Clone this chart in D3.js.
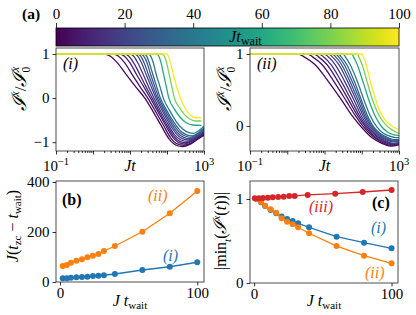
<!DOCTYPE html>
<html><head><meta charset="utf-8">
<script src="https://cdn.jsdelivr.net/npm/d3@7"></script>
<style>
body{margin:0;background:#fff}
svg{display:block}
</style>
</head><body>
<svg id="c" width="416" height="315"></svg>
<script>
// ---------------- data ----------------
const twait = [2,5,8,12,16,20,24,28,32,40,60,80,100];
const twaitIII = [0.5,3.5,6.5,10,13.5,17.5,21.5,25.5,29.5,39,59,79,100];
const cbTicks = [0,20,40,60,80,100];
const yTicksI = [-1,0,1];
const yTicksII = [0,1];
const yTicksB = [0,200,400];
const yTicksC = [0,1];
const xTicksBC = [0,100];
const logMajor = [0.1,1,10,100,1000];
const logLabeled = [0.1,1000];
const logMinor = [0.2,0.3,0.4,0.5,0.6,0.7,0.8,0.9,2,3,4,5,6,7,8,9,20,30,40,50,60,70,80,90,200,300,400,500,600,700,800,900];

// panel (i): [log10(Jt), I^x/I^x_0] per t_wait
const curvesI = [
 [[-1,1],[0.30,1],[0.47,0.95],[0.66,0.80],[0.90,0.53],[1.15,0.26],[1.40,0],[1.62,-0.30],[1.84,-0.62],[2.05,-0.92],[2.25,-1.07],[2.42,-1.10],[2.62,-1.05],[2.82,-0.94],[3.0,-0.84]],
 [[-1,1],[0.55,1],[0.69,0.95],[0.86,0.80],[1.06,0.53],[1.27,0.26],[1.48,0],[1.69,-0.30],[1.90,-0.61],[2.10,-0.90],[2.28,-1.04],[2.45,-1.07],[2.65,-1.02],[2.84,-0.91],[3.0,-0.82]],
 [[-1,1],[0.72,1],[0.85,0.95],[1.0,0.80],[1.18,0.53],[1.37,0.26],[1.55,0],[1.75,-0.30],[1.95,-0.60],[2.14,-0.87],[2.32,-1.01],[2.48,-1.04],[2.68,-0.98],[2.86,-0.88],[3.0,-0.80]],
 [[-1,1],[0.86,1],[0.97,0.95],[1.1,0.80],[1.27,0.53],[1.43,0.26],[1.60,0],[1.79,-0.30],[1.98,-0.59],[2.17,-0.85],[2.35,-0.98],[2.52,-1.01],[2.7,-0.95],[2.87,-0.86],[3.0,-0.78]],
 [[-1,1],[1.0,1],[1.1,0.95],[1.21,0.80],[1.36,0.53],[1.5,0.26],[1.65,0],[1.83,-0.30],[2.02,-0.58],[2.2,-0.83],[2.38,-0.95],[2.55,-0.98],[2.72,-0.92],[2.88,-0.83],[3.0,-0.76]],
 [[-1,1],[1.12,1],[1.21,0.95],[1.31,0.80],[1.44,0.53],[1.57,0.26],[1.70,0],[1.88,-0.30],[2.06,-0.57],[2.24,-0.80],[2.41,-0.92],[2.58,-0.95],[2.75,-0.89],[2.9,-0.80],[3.0,-0.74]],
 [[-1,1],[1.21,1],[1.29,0.95],[1.38,0.80],[1.5,0.53],[1.62,0.26],[1.74,0],[1.92,-0.30],[2.1,-0.56],[2.28,-0.78],[2.45,-0.89],[2.62,-0.92],[2.78,-0.86],[2.92,-0.78],[3.0,-0.72]],
 [[-1,1],[1.3,1],[1.37,0.95],[1.46,0.80],[1.56,0.53],[1.67,0.26],[1.78,0],[1.96,-0.29],[2.14,-0.55],[2.32,-0.76],[2.49,-0.86],[2.65,-0.89],[2.8,-0.83],[2.93,-0.76],[3.0,-0.70]],
 [[-1,1],[1.38,1],[1.45,0.95],[1.52,0.80],[1.62,0.53],[1.72,0.26],[1.82,0],[2.0,-0.29],[2.18,-0.54],[2.36,-0.74],[2.52,-0.83],[2.68,-0.86],[2.83,-0.80],[2.95,-0.72],[3.0,-0.68]],
 [[-1,1],[1.5,1],[1.56,0.95],[1.63,0.80],[1.71,0.53],[1.81,0.26],[1.9,0],[2.07,-0.28],[2.24,-0.52],[2.41,-0.69],[2.57,-0.78],[2.72,-0.80],[2.86,-0.74],[3.0,-0.64]],
 [[-1,1],[1.73,1],[1.78,0.95],[1.84,0.80],[1.91,0.53],[1.98,0.26],[2.05,0],[2.2,-0.25],[2.36,-0.44],[2.52,-0.56],[2.7,-0.61],[2.93,-0.62]],
 [[-1,1],[1.88,1],[1.93,0.95],[1.99,0.80],[2.06,0.53],[2.13,0.26],[2.2,0],[2.34,-0.22],[2.48,-0.38],[2.63,-0.48],[2.78,-0.52],[2.93,-0.52]],
 [[-1,1],[2.0,1],[2.04,0.95],[2.09,0.82],[2.13,0.68],[2.22,0.38],[2.35,0.03],[2.49,-0.23],[2.62,-0.38],[2.76,-0.44],[2.93,-0.45]]
];
// panel (ii)
const curvesII = [
 [[-1,1],[0.30,1],[0.45,0.96],[0.75,0.85],[1.1,0.62],[1.46,0.36],[1.73,0.15],[2.0,-0.02],[2.27,-0.16],[2.54,-0.24],[2.78,-0.28],[3.0,-0.26]],
 [[-1,1],[0.55,1],[0.68,0.96],[0.94,0.85],[1.25,0.62],[1.57,0.36],[1.82,0.15],[2.06,-0.02],[2.31,-0.15],[2.56,-0.23],[2.8,-0.27],[3.0,-0.25]],
 [[-1,1],[0.72,1],[0.84,0.96],[1.07,0.85],[1.36,0.62],[1.65,0.36],[1.88,0.15],[2.11,-0.02],[2.35,-0.15],[2.59,-0.22],[2.82,-0.26],[3.0,-0.25]],
 [[-1,1],[0.86,1],[0.97,0.96],[1.18,0.85],[1.45,0.62],[1.72,0.36],[1.93,0.15],[2.15,-0.02],[2.38,-0.14],[2.61,-0.21],[2.83,-0.25],[3.0,-0.24]],
 [[-1,1],[1.0,1],[1.1,0.96],[1.29,0.85],[1.54,0.62],[1.79,0.36],[1.98,0.15],[2.19,-0.02],[2.41,-0.14],[2.63,-0.2],[2.84,-0.24],[3.0,-0.23]],
 [[-1,1],[1.12,1],[1.21,0.96],[1.39,0.85],[1.62,0.62],[1.85,0.36],[2.03,0.15],[2.23,-0.02],[2.44,-0.13],[2.65,-0.19],[2.85,-0.22],[3.0,-0.22]],
 [[-1,1],[1.21,1],[1.3,0.96],[1.46,0.85],[1.68,0.62],[1.9,0.36],[2.07,0.15],[2.27,-0.02],[2.47,-0.12],[2.67,-0.18],[2.86,-0.21],[3.0,-0.21]],
 [[-1,1],[1.3,1],[1.38,0.96],[1.53,0.85],[1.74,0.62],[1.95,0.36],[2.11,0.15],[2.3,-0.02],[2.5,-0.12],[2.69,-0.17],[2.87,-0.2],[3.0,-0.2]],
 [[-1,1],[1.38,1],[1.45,0.96],[1.6,0.85],[1.8,0.62],[1.99,0.36],[2.15,0.15],[2.33,-0.02],[2.52,-0.11],[2.7,-0.16],[2.88,-0.19],[3.0,-0.19]],
 [[-1,1],[1.5,1],[1.56,0.96],[1.69,0.85],[1.88,0.62],[2.06,0.36],[2.22,0.15],[2.4,-0.01],[2.58,-0.1],[2.75,-0.14],[2.9,-0.16],[3.0,-0.16]],
 [[-1,1],[1.73,1],[1.78,0.96],[1.88,0.85],[2.03,0.62],[2.19,0.36],[2.34,0.16],[2.52,0.0],[2.68,-0.08],[2.84,-0.12],[3.0,-0.13]],
 [[-1,1],[1.88,1],[1.92,0.96],[2.01,0.85],[2.14,0.62],[2.29,0.36],[2.44,0.17],[2.62,0.03],[2.8,-0.05],[3.0,-0.1]],
 [[-1,1],[2.0,1],[2.05,0.95],[2.13,0.83],[2.22,0.64],[2.36,0.39],[2.49,0.20],[2.62,0.09],[2.8,0.0],[3.0,-0.05]]
];
// panel (b): J(t_zc - t_wait)
const tzcI = [15,15,17,19,20,21,24,25,27,32,48,61,79];
const tzcII = [64,68,77,85,91,99,105,112,124,144,201,275,364];
// panel (c): |min_t I^x(t)|
const minI = [0.996,0.96,0.917,0.869,0.83,0.79,0.762,0.738,0.71,0.663,0.551,0.48,0.413];
const minII = [1.0,0.968,0.92,0.877,0.837,0.77,0.73,0.7,0.663,0.592,0.44,0.325,0.235];
const minIII = [1.008,1.008,1.012,1.016,1.02,1.024,1.028,1.036,1.036,1.048,1.063,1.083,1.107];

// ---------------- drawing ----------------
const svg = d3.select("#c");
const FS = 15;
const FF = "Liberation Serif, DejaVu Serif, serif";
const BLUE="#1f77b4", ORANGE="#ff7f0e", RED="#d62728";
const defs = svg.append("defs");

const P = {
  i:  {x0:56, x1:204, y0:48, y1:151},
  ii: {x0:250,x1:399, y0:48, y1:151},
  b:  {x0:56, x1:204, y0:181,y1:282},
  c:  {x0:250,x1:398, y0:181,y1:283}
};

function txt(x,y,size){
  return svg.append("text").attr("x",x).attr("y",y).attr("font-size",size||FS).attr("font-family",FF).attr("fill","#000");
}
function styleAxis(g){
  g.select(".domain").remove();
  g.selectAll(".tick line").attr("stroke","#000").attr("stroke-width",0.8);
  g.selectAll(".tick text").attr("font-size",FS).attr("font-family",FF).attr("fill","#000");
}
function box(p){
  svg.append("rect").attr("x",p.x0).attr("y",p.y0).attr("width",p.x1-p.x0).attr("height",p.y1-p.y0)
    .attr("fill","none").attr("stroke","#222").attr("stroke-width",0.8);
}
function clip(id,p){
  defs.append("clipPath").attr("id",id).append("rect")
    .attr("x",p.x0).attr("y",p.y0).attr("width",p.x1-p.x0).attr("height",p.y1-p.y0);
}
const fmtMinus = d => String(d).replace("-","\u2212");

// ---- colorbar ----
const cb = d3.scaleLinear().domain([0,100]).range([56,399]);
const grad = defs.append("linearGradient").attr("id","vir");
d3.range(0,1.0001,0.05).forEach(t=>grad.append("stop").attr("offset",t).attr("stop-color",d3.interpolateViridis(t)));
svg.append("rect").attr("x",cb(0)).attr("y",28).attr("width",cb(100)-cb(0)).attr("height",18)
  .attr("fill","url(#vir)").attr("stroke","#000").attr("stroke-width",0.8);
svg.append("g").attr("transform","translate(0,28)")
  .call(d3.axisTop(cb).tickValues(cbTicks).tickSize(5).tickPadding(4)).call(styleAxis);
const cbl = txt(229,42,16.5);
cbl.append("tspan").attr("font-style","italic").text("Jt");
cbl.append("tspan").attr("font-size",12).attr("dy",3).text("wait");
txt(22,19,15.5).attr("font-weight","bold").text("(a)");

// ---- line panels ----
function linePanel(p, curves, ydom, yticks, id, label){
  const x = d3.scaleLog().domain([0.1,1000]).range([p.x0,p.x1]);
  const y = d3.scaleLinear().domain(ydom).range([p.y1,p.y0]);
  clip(id,p);
  const line = d3.line().x(d=>x(Math.pow(10,d[0]))).y(d=>y(d[1])).curve(d3.curveMonotoneX);
  svg.append("g").attr("clip-path",`url(#${id})`).selectAll("path").data(curves).join("path")
    .attr("d",line).attr("fill","none").attr("stroke-width",1.3)
    .attr("stroke",(d,k)=>d3.interpolateViridis(twait[k]/100));
  box(p);
  svg.append("g").attr("transform",`translate(0,${p.y1})`)
    .call(d3.axisBottom(x).tickValues(logMinor).tickSize(2).tickFormat("")).call(styleAxis);
  svg.append("g").attr("transform",`translate(0,${p.y1})`)
    .call(d3.axisBottom(x).tickValues(logMajor).tickSize(3.5).tickFormat("")).call(styleAxis);
  logLabeled.forEach(v=>{
    const t = txt(x(v),p.y1+20).attr("text-anchor","middle");
    t.append("tspan").text("10");
    t.append("tspan").attr("dy",-6).attr("font-size",10.5).text(fmtMinus(Math.round(Math.log10(v))));
  });
  txt((p.x0+p.x1)/2,p.y1+20,16).attr("text-anchor","middle").attr("font-style","italic").text("Jt");
  svg.append("g").attr("transform",`translate(${p.x0},0)`)
    .call(d3.axisLeft(y).tickValues(yticks).tickSize(3.5).tickPadding(3).tickFormat(fmtMinus)).call(styleAxis);
  txt(p.x0+7,p.y0+21,16).attr("font-style","italic").text(label);
}
linePanel(P.i, curvesI, [-1.2,1.136], yTicksI, "clipI", "(i)");
linePanel(P.ii, curvesII, [-0.347,1.083], yTicksII, "clipII", "(ii)");

function ylabelI(cx, cy){
  const t = svg.append("text").attr("transform",`translate(${cx},${cy}) rotate(-90)`).attr("text-anchor","middle")
    .attr("font-size",17).attr("font-family",FF).attr("font-style","italic");
  t.append("tspan").attr("font-size",20).text("\u2110");
  t.append("tspan").attr("dy",-7).attr("font-size",11.5).text("x");
  t.append("tspan").attr("dy",7).attr("font-style","normal").text("/");
  t.append("tspan").attr("font-size",20).text("\u2110");
  t.append("tspan").attr("dy",-7).attr("font-size",11.5).text("x");
  t.append("tspan").attr("dx",-6).attr("dy",11).attr("font-size",11.5).attr("font-style","normal").text("0");
}
ylabelI(26, 89);
ylabelI(231, 89);

// ---- panel (b) ----
{
  const p = P.b;
  const x = d3.scaleLinear().domain([-2.9,104.9]).range([p.x0,p.x1]);
  const y = d3.scaleLinear().domain([0,404]).range([p.y1,p.y0]);
  const series = [{v:tzcI,c:BLUE},{v:tzcII,c:ORANGE}];
  const line = d3.line().x((d,k)=>x(twait[k])).y(d=>y(d));
  series.forEach(s=>{
    svg.append("path").attr("d",line(s.v)).attr("fill","none").attr("stroke",s.c).attr("stroke-width",1.3);
    svg.append("g").selectAll("circle").data(s.v).join("circle")
      .attr("cx",(d,k)=>x(twait[k])).attr("cy",d=>y(d)).attr("r",3).attr("fill",s.c);
  });
  box(p);
  svg.append("g").attr("transform",`translate(0,${p.y1})`)
    .call(d3.axisBottom(x).tickValues(xTicksBC).tickSize(3.5).tickPadding(2).tickFormat(d=>String(d))).call(styleAxis);
  svg.append("g").attr("transform",`translate(${p.x0},0)`)
    .call(d3.axisLeft(y).tickValues(yTicksB).tickSize(3.5).tickPadding(3).tickFormat(d=>String(d))).call(styleAxis);
  txt(62,205,16).attr("font-weight","bold").text("(b)");
  txt(148,201,16).attr("font-style","italic").attr("fill",ORANGE).text("(ii)");
  txt(163,261,16).attr("font-style","italic").attr("fill",BLUE).text("(i)");
  const xl = txt(130,306,16).attr("text-anchor","middle");
  xl.append("tspan").attr("font-style","italic").text("J t");
  xl.append("tspan").attr("font-size",11).attr("dy",3).text("wait");
  const yl = svg.append("text").attr("transform","translate(18,226) rotate(-90)").attr("text-anchor","middle")
    .attr("font-size",16).attr("font-family",FF);
  yl.append("tspan").attr("font-style","italic").text("J");
  yl.append("tspan").text("(");
  yl.append("tspan").attr("font-style","italic").text("t");
  yl.append("tspan").attr("font-size",11).attr("dy",3).text("zc");
  yl.append("tspan").attr("dy",-3).text(" \u2212 ");
  yl.append("tspan").attr("font-style","italic").text("t");
  yl.append("tspan").attr("font-size",11).attr("dy",3).text("wait");
  yl.append("tspan").attr("dy",-3).text(")");
}

// ---- panel (c) ----
{
  const p = P.c;
  const x = d3.scaleLinear().domain([-3.0,104.7]).range([p.x0,p.x1]);
  const y = d3.scaleLinear().domain([0,1.214]).range([p.y1,p.y0]);
  const series = [{v:minI,t:twait,c:BLUE},{v:minII,t:twait,c:ORANGE},{v:minIII,t:twaitIII,c:RED}];
  series.forEach(s=>{
    const line = d3.line().x((d,k)=>x(s.t[k])).y(d=>y(d));
    svg.append("path").attr("d",line(s.v)).attr("fill","none").attr("stroke",s.c).attr("stroke-width",1.3);
    svg.append("g").selectAll("circle").data(s.v).join("circle")
      .attr("cx",(d,k)=>x(s.t[k])).attr("cy",d=>y(d)).attr("r",3).attr("fill",s.c);
  });
  box(p);
  svg.append("g").attr("transform",`translate(0,${p.y1})`)
    .call(d3.axisBottom(x).tickValues(xTicksBC).tickSize(3.5).tickPadding(2).tickFormat(d=>String(d))).call(styleAxis);
  svg.append("g").attr("transform",`translate(${p.x0},0)`)
    .call(d3.axisLeft(y).tickValues(yTicksC).tickSize(3.5).tickPadding(3).tickFormat(d=>String(d))).call(styleAxis);
  txt(372,208,16).attr("font-weight","bold").text("(c)");
  txt(309,212,16).attr("font-style","italic").attr("fill",RED).text("(iii)");
  txt(371,233,16).attr("font-style","italic").attr("fill",BLUE).text("(i)");
  txt(365,278,16).attr("font-style","italic").attr("fill",ORANGE).text("(ii)");
  const xl = txt(324,306,16).attr("text-anchor","middle");
  xl.append("tspan").attr("font-style","italic").text("J t");
  xl.append("tspan").attr("font-size",11).attr("dy",3).text("wait");
  const yl = svg.append("text").attr("transform","translate(226,231) rotate(-90)").attr("text-anchor","middle")
    .attr("font-size",16).attr("font-family",FF);
  yl.append("tspan").text("|min");
  yl.append("tspan").attr("font-size",11).attr("font-style","italic").attr("dy",5).text("t");
  yl.append("tspan").attr("dy",-5).text("(");
  yl.append("tspan").attr("font-style","italic").attr("font-size",18).text("\u2110");
  yl.append("tspan").attr("font-size",11).attr("font-style","italic").attr("dy",-6).text("x");
  yl.append("tspan").attr("dy",6).text("(");
  yl.append("tspan").attr("font-style","italic").text("t");
  yl.append("tspan").text("))|");
}
</script>
</body></html>
